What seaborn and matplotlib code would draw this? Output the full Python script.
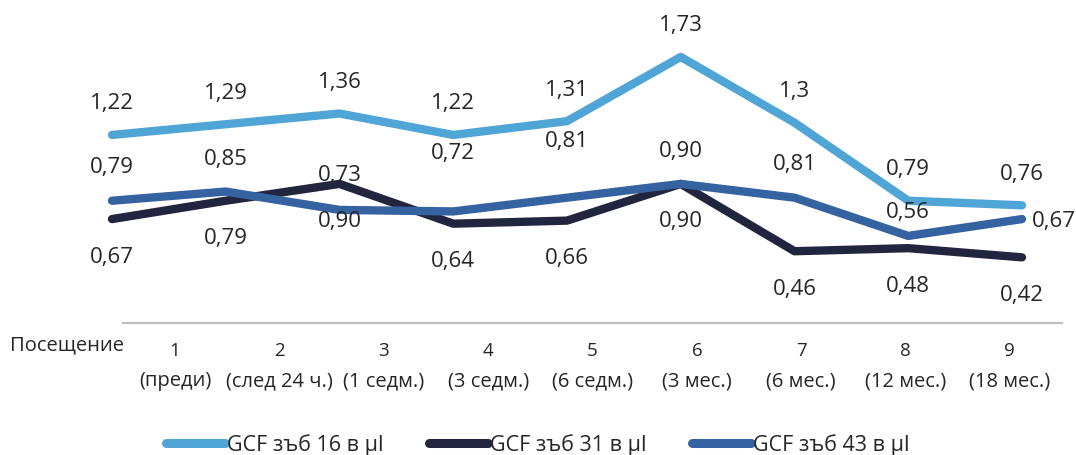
import matplotlib
matplotlib.use("Agg")
import matplotlib.pyplot as plt
from matplotlib.lines import Line2D
from matplotlib import font_manager
import pandas as pd
import seaborn as sns

# --- data -------------------------------------------------------------
visits = ["1", "2", "3", "4", "5", "6", "7", "8", "9"]
periods = ["(преди)", "(след 24 ч.)", "(1 седм.)", "(3 седм.)", "(6 седм.)",
           "(3 мес.)", "(6 мес.)", "(12 мес.)", "(18 мес.)"]
series_names = ["GCF зъб 16 в µl", "GCF зъб 31 в µl", "GCF зъб 43 в µl"]
tooth16 = [1.22, 1.29, 1.36, 1.22, 1.31, 1.73, 1.30, 0.79, 0.76]
tooth31 = [0.67, 0.79, 0.90, 0.64, 0.66, 0.90, 0.46, 0.48, 0.42]
tooth43 = [0.79, 0.85, 0.73, 0.72, 0.81, 0.90, 0.81, 0.56, 0.67]
label16 = ["1,22", "1,29", "1,36", "1,22", "1,31", "1,73", "1,3", "0,79", "0,76"]
label31 = ["0,67", "0,79", "0,90", "0,64", "0,66", "0,90", "0,46", "0,48", "0,42"]
label43 = ["0,79", "0,85", "0,73", "0,72", "0,81", "0,90", "0,81", "0,56", "0,67"]

# --- styling ----------------------------------------------------------
colors = ["#4fa5d6", "#22253e", "#3562a1"]
# label offsets in pixels (dx, dy), dy positive = upward
off16 = [(0, 31)] * 9
off31 = [(0, -38)] * 9
off43 = [(0, 33), (0, 32), (0, 34), (0, 58), (0, 56), (0, 32), (0, 33), (0, 23), (32, -2)]

sns.set_theme(style="white")
avail = {f.name for f in font_manager.fontManager.ttflist}
main_font = "Open Sans" if "Open Sans" in avail else "DejaVu Sans"
plt.rcParams["font.family"] = [main_font, "DejaVu Sans"]
text_color = "#262626"

W, H, DPI = 1076, 455, 100
fig = plt.figure(figsize=(W / DPI, H / DPI), dpi=DPI)
fig.patch.set_facecolor("white")

# plot area for the lines
x0, x1 = 112, 1022
y0, y1 = 321.6, 15.6
ax = fig.add_axes([x0 / W, (H - y0) / H, (x1 - x0) / W, (y0 - y1) / H])
ax.set_xlim(0, 8)
ax.set_ylim(0, 2.0)
ax.axis("off")

rows = []
for name, vals in zip(series_names, [tooth16, tooth31, tooth43]):
    for i, v in enumerate(vals):
        rows.append({"idx": i, "value": v, "series": name})
df = pd.DataFrame(rows)

sns.lineplot(data=df, x="idx", y="value", hue="series", hue_order=series_names,
             palette=colors, linewidth=6, ax=ax, legend=False, sort=False)
for ln in ax.lines:
    ln.set_solid_capstyle("round")
    ln.set_solid_joinstyle("round")
    ln.set_clip_on(False)

for vals, labs, offs in [(tooth16, label16, off16), (tooth31, label31, off31),
                         (tooth43, label43, off43)]:
    for i, (v, t, (dx, dy)) in enumerate(zip(vals, labs, offs)):
        ax.annotate(t, xy=(i, v), xytext=(dx * 0.72, dy * 0.72),
                    textcoords="offset points", ha="center", va="center",
                    fontsize=16, color=text_color, annotation_clip=False)

# category axis
cx0, cx1, cy = 123, 1062, 323
cax = fig.add_axes([cx0 / W, 0.0, (cx1 - cx0) / W, (H - cy) / H])
cax.set_xlim(-0.5, 8.5)
cax.set_ylim(0, H - cy)
cax.set_facecolor("none")
for s in ["left", "right", "bottom"]:
    cax.spines[s].set_visible(False)
cax.spines["top"].set_color("#bfbfbf")
cax.spines["top"].set_linewidth(1.6)
cax.set_xticks([])
cax.set_yticks([])
for i, (v, p) in enumerate(zip(visits, periods)):
    cax.text(i, H - cy - 28, v, ha="center", va="center", fontsize=13.5, color=text_color)
    cax.text(i, H - cy - 58, p, ha="center", va="center", fontsize=14.5, color=text_color)
fig.text(10 / W, (H - 345) / H, "Посещение", ha="left", va="center",
         fontsize=14.5, color=text_color)

# legend
handles = [Line2D([0], [0], color=c, lw=6.5, solid_capstyle="round") for c in colors]
leg = fig.legend(handles, series_names, loc="center left",
                 bbox_to_anchor=(166 / W, (H - 445) / H),
                 ncol=3, frameon=False, handlelength=2.75, handletextpad=0.1,
                 columnspacing=2.1, borderpad=0, borderaxespad=0,
                 prop={"size": 15.5})
for t in leg.get_texts():
    t.set_color(text_color)

fig.savefig("out.png", dpi=DPI, facecolor="white")
